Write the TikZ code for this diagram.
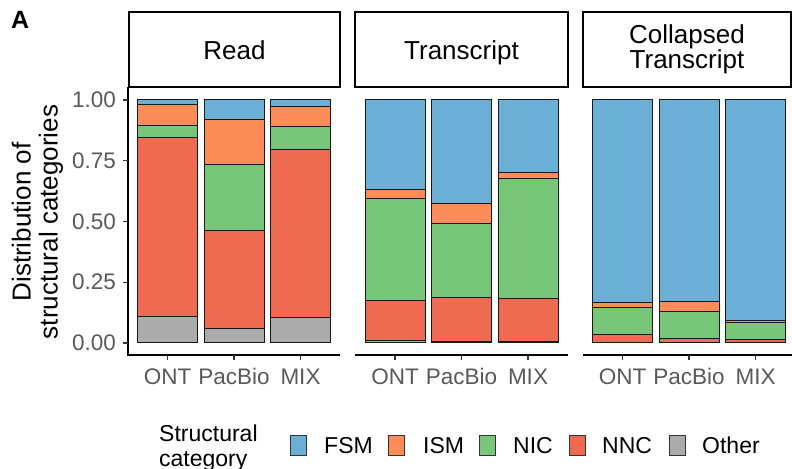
\documentclass[tikz,border=0pt]{standalone}
\usepackage{fontspec}
\setmainfont{Liberation Sans}
\usepackage{xcolor}
\usepackage{tikz}
\usetikzlibrary{positioning}
\definecolor{catFSM}{HTML}{6BAED6}
\definecolor{catISM}{HTML}{FC8D59}
\definecolor{catNIC}{HTML}{78C679}
\definecolor{catNNC}{HTML}{EE6A50}
\definecolor{catOther}{HTML}{ABABAB}
\definecolor{axisgrey}{HTML}{595959}

\begin{document}
\begin{tikzpicture}[
    x=1bp, y=-1bp,
    strip/.style={draw=black, line width=2.2bp},
    axis/.style={draw=black, line width=1.8bp},
    tick/.style={draw=black!80, line width=1.4bp},
    bar/.style={draw=black!90, line width=1bp},
    ticklabel/.style={text=axisgrey, inner sep=0pt, font=\fontsize{22.5bp}{27bp}\selectfont},
    striplabel/.style={inner sep=0pt, align=center, font=\fontsize{26bp}{24bp}\selectfont},
    legendkey/.style={draw=black!80, line width=0.9bp, minimum width=15.5bp, minimum height=20bp, inner sep=0pt},
    legendlabel/.style={anchor=base west, inner sep=0pt, font=\fontsize{23bp}{25bp}\selectfont}
]
    \useasboundingbox (0,0) rectangle (792,469);

    \node[anchor=base west, inner sep=0pt, font=\bfseries\fontsize{25bp}{25bp}\selectfont] (panelA) at (11,28.5) {A};

    \draw[strip] (129,12) rectangle (340,87);
    \draw[strip] (355,12) rectangle (568,87);
    \draw[strip] (583,12) rectangle (791,87);
    \node[striplabel, anchor=base] (read) at (234.5,59.5) {Read};
    \node[striplabel, anchor=base] (transcript) at (461.5,59.5) {Transcript};
    \node[striplabel] (collapsed) at (687,49.5) {Collapsed\\Transcript};

    \foreach \bx/\o/\n/\c/\s in {137.5/0.11/0.844/0.897/0.98, 204/0.06/0.464/0.735/0.918, 270.5/0.104/0.797/0.889/0.975,
                                 365/0.012/0.176/0.593/0.63, 431.5/0.008/0.187/0.491/0.573, 498/0.008/0.184/0.679/0.70,
                                 592.5/0.004/0.033/0.148/0.166, 659/0.004/0.018/0.13/0.17, 725.5/0.004/0.016/0.085/0.094} {
        \draw[bar, fill=catOther] (\bx,343) rectangle ({\bx+60},{343-243*\o});
        \draw[bar, fill=catNNC] (\bx,{343-243*\o}) rectangle ({\bx+60},{343-243*\n});
        \draw[bar, fill=catNIC] (\bx,{343-243*\n}) rectangle ({\bx+60},{343-243*\c});
        \draw[bar, fill=catISM] (\bx,{343-243*\c}) rectangle ({\bx+60},{343-243*\s});
        \draw[bar, fill=catFSM] (\bx,{343-243*\s}) rectangle ({\bx+60},100);
    }

    \draw[axis] (128,87) -- (128,355) -- (340,355);
    \draw[axis] (355,355) -- (568,355);
    \draw[axis] (583,355) -- (792,355);

    \foreach \v [count=\i] in {0.00,0.25,0.50,0.75,1.00} {
        \draw[tick] (123,{343-243*\v}) -- (128,{343-243*\v});
        \node[ticklabel, anchor=east] (ylab\i) at (116,{343-243*\v}) {\v};
    }
    \foreach \bx [count=\i] in {137.5,204,270.5,365,431.5,498,592.5,659,725.5} {
        \draw[tick] ({\bx+30},355) -- ({\bx+30},360);
    }
    \foreach \lab/\bx [count=\i] in {ONT/137.5,PacBio/204,MIX/270.5,ONT/365,PacBio/431.5,MIX/498,ONT/592.5,PacBio/659,MIX/725.5} {
        \node[ticklabel, anchor=base] (xlab\i) at ({\bx+30},385) {\lab};
    }

    \node[rotate=90, align=center, inner sep=0pt, font=\fontsize{26bp}{27bp}\selectfont] (ytitle) at (37.5,222) {Distribution of\\structural categories};

    \node[align=left, anchor=west, inner sep=0pt, font=\fontsize{23bp}{25bp}\selectfont] (legendtitle) at (159,448) {Structural\\category};
    \foreach \cat/\kx/\tx in {FSM/290/324, ISM/388/423, NIC/479/513, NNC/569/602, Other/669/702} {
        \node[legendkey, fill=cat\cat, anchor=west] (key\cat) at (\kx,445) {};
        \node[legendlabel] (lab\cat) at (\tx,453) {\cat};
    }
\end{tikzpicture}
\end{document}
